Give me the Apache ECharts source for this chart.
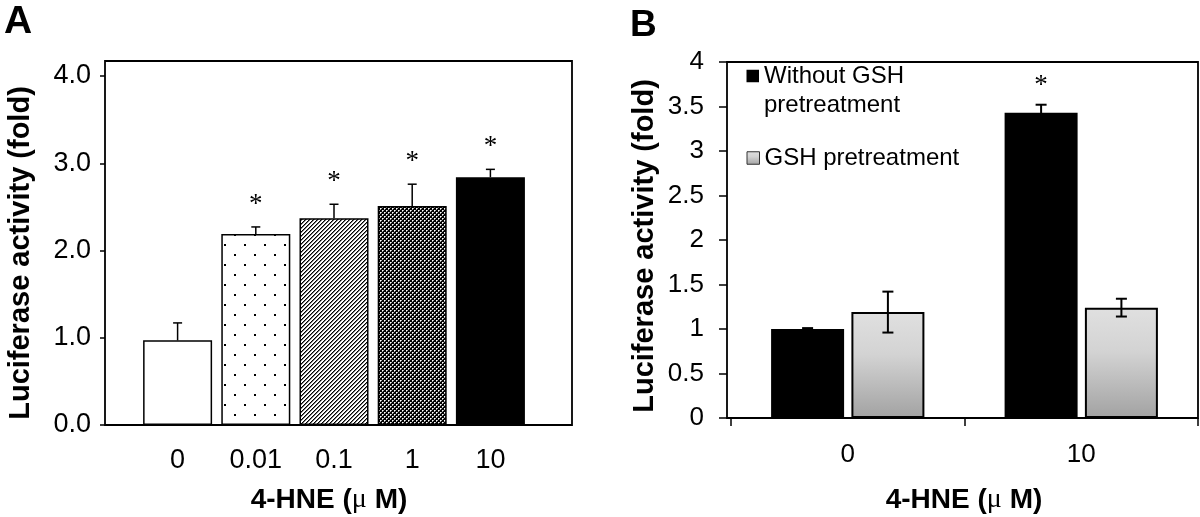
<!DOCTYPE html>
<html>
<head>
<meta charset="utf-8">
<script src="https://cdn.jsdelivr.net/npm/echarts@6/dist/echarts.min.js"></script>
<style>
html,body{margin:0;padding:0;background:#fff;}
#c{width:1200px;height:517px;}
</style>
</head>
<body>
<div id="c"></div>
<script>
// ---------- Panel A data ----------
const aCategories = ['0', '0.01', '0.1', '1', '10'];
const aValues = [0.97, 2.19, 2.37, 2.51, 2.84];
const aErrors = [0.20, 0.08, 0.16, 0.25, 0.09];
const aSignificant = [false, true, true, true, true];
const aYTickLabels = ['0.0', '1.0', '2.0', '3.0', '4.0'];

// ---------- Panel B data ----------
const bCategories = ['0', '10'];
const bSeriesNames = ['Without GSH pretreatment', 'GSH pretreatment'];
const bWithout = [1.00, 3.43];
const bWithoutErr = [0.01, 0.09];
const bWithoutSig = [false, true];
const bGSH = [1.19, 1.24];
const bGSHErr = [0.23, 0.10];
const bGSHSig = [false, false];

const axisTitle = '4-HNE ({mu|μ} M)';
const yTitle = 'Luciferase activity (fold)';

// ---------- patterns ----------
function pattern(w, h, fn) {
  const c = document.createElement('canvas');
  c.width = w; c.height = h;
  const g = c.getContext('2d');
  g.fillStyle = '#fff'; g.fillRect(0, 0, w, h);
  fn(g);
  return { image: c, repeat: 'repeat' };
}
const dotPattern = pattern(20, 20, g => {
  g.fillStyle = '#000';
  g.fillRect(4, 4, 2, 2); g.fillRect(14, 14, 2, 2);
});
const hatchPattern = pattern(4, 4, g => {
  for (let x = 0; x < 4; x++) for (let y = 0; y < 4; y++) {
    const k = (x + y) % 4;
    if (k === 0) { g.fillStyle = '#000'; g.fillRect(x, y, 1, 1); }
    else if (k === 1) { g.fillStyle = '#777'; g.fillRect(x, y, 1, 1); }
  }
});
const checkPattern = pattern(4, 4, g => {
  g.fillStyle = '#000'; g.fillRect(0, 0, 4, 4);
  g.fillStyle = '#fff'; g.fillRect(0, 0, 1, 1); g.fillRect(2, 2, 1, 1);
  g.fillStyle = '#aaa'; g.fillRect(1, 0, 1, 1); g.fillRect(0, 1, 1, 1); g.fillRect(3, 2, 1, 1); g.fillRect(2, 3, 1, 1);
});
const aFills = ['#ffffff', dotPattern, hatchPattern, checkPattern, '#000000'];

const grayGradient = {
  type: 'linear', x: 0, y: 0, x2: 0, y2: 1,
  colorStops: [
    { offset: 0, color: '#e0e0e0' },
    { offset: 0.4, color: '#d3d3d3' },
    { offset: 1, color: '#a2a2a2' }
  ]
};

// ---------- error bars ----------
function errorBars(offset, capHalf, upOnly, starGap, lw) {
  return function (params, api) {
    const i = api.value(0), v = api.value(1), e = api.value(2), s = api.value(3);
    const base = api.coord([i, v]);
    const x = base[0] + offset;
    const yTop = api.coord([i, v + e])[1];
    const yBot = upOnly ? base[1] : api.coord([i, v - e])[1];
    const st = { stroke: '#000', lineWidth: lw };
    const ch = [
      { type: 'line', shape: { x1: x, y1: yTop, x2: x, y2: yBot }, style: st },
      { type: 'line', shape: { x1: x - capHalf, y1: yTop, x2: x + capHalf, y2: yTop }, style: st }
    ];
    if (!upOnly) ch.push({ type: 'line', shape: { x1: x - capHalf, y1: yBot, x2: x + capHalf, y2: yBot }, style: st });
    if (s) ch.push({ type: 'text', style: { text: '*', x: x, y: yTop - starGap, align: 'center', verticalAlign: 'middle', font: '27px "Liberation Serif"', fill: '#000' } });
    return { type: 'group', children: ch };
  };
}

const BW = 73, BGAP = 0.1;
const bOff = (BW + BW * BGAP) / 2;

const font = '"Liberation Sans", Arial, sans-serif';

const option = {
  animation: false,
  backgroundColor: '#fff',
  grid: [
    { left: 105, top: 61, width: 467, height: 364, show: true, borderColor: '#000', borderWidth: 1.8, backgroundColor: 'transparent' },
    { left: 138.5, top: 76, width: 391, height: 349 },
    { left: 727, top: 62, width: 471, height: 356, show: true, borderColor: '#000', borderWidth: 1.8, backgroundColor: 'transparent' },
    { left: 731, top: 62, width: 467, height: 356 }
  ],
  xAxis: [
    { gridIndex: 0, type: 'value', show: false, min: 0, max: 1 },
    { gridIndex: 1, type: 'category', data: aCategories,
      axisLine: { show: false }, axisTick: { show: false },
      axisLabel: { fontSize: 27, fontFamily: font, color: '#000', margin: 22 } },
    { gridIndex: 2, type: 'value', show: false, min: 0, max: 1 },
    { gridIndex: 3, type: 'category', data: bCategories,
      axisLine: { show: false },
      axisTick: { show: true, length: 8, inside: false, lineStyle: { color: '#000', width: 1.5 } },
      axisLabel: { fontSize: 26, fontFamily: font, color: '#000', margin: 24 } }
  ],
  yAxis: [
    { gridIndex: 0, type: 'value', show: false, min: 0, max: 1 },
    { gridIndex: 1, type: 'value', min: 0, max: 4, interval: 1, offset: 33.5,
      axisLine: { show: false },
      axisTick: { show: true, length: 5, lineStyle: { color: '#000', width: 1.5 } },
      splitLine: { show: false },
      axisLabel: { fontSize: 27, fontFamily: font, color: '#000', margin: 14,
        formatter: v => aYTickLabels[Math.round(v)] } },
    { gridIndex: 2, type: 'value', show: false, min: 0, max: 1 },
    { gridIndex: 3, type: 'value', min: 0, max: 4, interval: 0.5, offset: 4,
      axisLine: { show: false },
      axisTick: { show: true, length: 8, lineStyle: { color: '#000', width: 1.5 } },
      splitLine: { show: false },
      axisLabel: { fontSize: 26, fontFamily: font, color: '#000', margin: 23 } }
  ],
  legend: [
    { data: [{ name: bSeriesNames[0], itemStyle: { color: '#000', borderWidth: 0 } }],
      formatter: () => '\nWithout GSH\npretreatment',
      left: 746.5, top: 32.5, padding: 0, icon: 'rect', itemWidth: 12.5, itemHeight: 12.5,
      selectedMode: false,
      textStyle: { fontSize: 24, fontFamily: font, color: '#000', lineHeight: 29 } },
    { data: [{ name: bSeriesNames[1], itemStyle: { color: grayGradient, borderColor: '#333', borderWidth: 1 } }],
      left: 746.5, top: 143.5, padding: 0, icon: 'rect', itemWidth: 12.5, itemHeight: 12.5,
      selectedMode: false,
      textStyle: { fontSize: 24, fontFamily: font, color: '#000', lineHeight: 29 } }
  ],
  series: [
    { type: 'bar', xAxisIndex: 1, yAxisIndex: 1, barWidth: 69,
      data: aValues.map((v, i) => ({ value: v, itemStyle: { color: aFills[i], borderColor: '#000', borderWidth: 1.5 } })) },
    { type: 'custom', xAxisIndex: 1, yAxisIndex: 1, z: 5, clip: false,
      renderItem: errorBars(0, 4.5, true, 22, 1.5),
      encode: { x: 0, y: 1 },
      data: aValues.map((v, i) => [i, v, aErrors[i], aSignificant[i] ? 1 : 0]) },
    { name: bSeriesNames[0], type: 'bar', xAxisIndex: 3, yAxisIndex: 3, barWidth: BW, barGap: '10%',
      itemStyle: { color: '#000', borderColor: '#000', borderWidth: 2 },
      data: bWithout },
    { name: bSeriesNames[1], type: 'bar', xAxisIndex: 3, yAxisIndex: 3, barWidth: BW, barGap: '10%',
      itemStyle: { color: grayGradient, borderColor: '#000', borderWidth: 2 },
      data: bGSH },
    { type: 'custom', xAxisIndex: 3, yAxisIndex: 3, z: 5, clip: false,
      renderItem: errorBars(-bOff, 5.5, false, 19, 2),
      encode: { x: 0, y: 1 },
      data: bWithout.map((v, i) => [i, v, bWithoutErr[i], bWithoutSig[i] ? 1 : 0]) },
    { type: 'custom', xAxisIndex: 3, yAxisIndex: 3, z: 5, clip: false,
      renderItem: errorBars(bOff, 5.5, false, 19, 2),
      encode: { x: 0, y: 1 },
      data: bGSH.map((v, i) => [i, v, bGSHErr[i], bGSHSig[i] ? 1 : 0]) }
  ],
  graphic: [
    { type: 'text', x: 4, y: 22.5, style: { text: 'A', font: 'bold 39px ' + font, fill: '#000', align: 'left', verticalAlign: 'middle' } },
    { type: 'text', x: 630, y: 25.8, style: { text: 'B', font: 'bold 37px ' + font, fill: '#000', align: 'left', verticalAlign: 'middle' } },
    { type: 'text', x: 21, y: 253, rotation: Math.PI / 2,
      style: { text: yTitle, font: 'bold 29px ' + font, fill: '#000', align: 'center', verticalAlign: 'middle' } },
    { type: 'text', x: 645, y: 246, rotation: Math.PI / 2,
      style: { text: yTitle, font: 'bold 29px ' + font, fill: '#000', align: 'center', verticalAlign: 'middle' } },
    { type: 'text', x: 329, y: 500,
      style: { text: axisTitle, font: 'bold 28px ' + font, fill: '#000', align: 'center', verticalAlign: 'middle',
        rich: { mu: { font: '28px "Liberation Serif"', fill: '#000' } } } },
    { type: 'text', x: 964, y: 500,
      style: { text: axisTitle, font: 'bold 28px ' + font, fill: '#000', align: 'center', verticalAlign: 'middle',
        rich: { mu: { font: '28px "Liberation Serif"', fill: '#000' } } } }
  ]
};

const chart = echarts.init(document.getElementById('c'), null, { renderer: 'canvas', width: 1200, height: 517 });
chart.setOption(option);
</script>
</body>
</html>
